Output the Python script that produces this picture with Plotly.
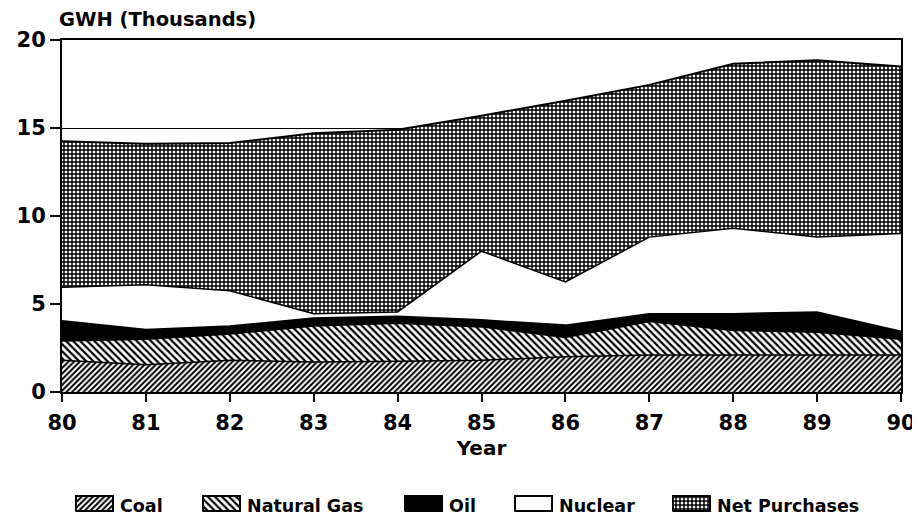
import plotly.graph_objects as go

# Year labels (19xx)
years = [80, 81, 82, 83, 84, 85, 86, 87, 88, 89, 90]

# GWH (thousands), values per source, stacked bottom to top
coal = [1.8, 1.55, 1.8, 1.7, 1.75, 1.8, 2.0, 2.1, 2.1, 2.1, 2.1]
natural_gas = [1.1, 1.45, 1.5, 2.05, 2.15, 1.9, 1.1, 1.9, 1.4, 1.3, 0.9]
oil = [1.15, 0.55, 0.45, 0.45, 0.4, 0.4, 0.7, 0.45, 0.95, 1.15, 0.45]
nuclear = [1.9, 2.55, 2.0, 0.25, 0.25, 3.9, 2.45, 4.35, 4.85, 4.25, 5.55]
net_purchases = [8.3, 8.0, 8.4, 10.25, 10.35, 7.7, 10.3, 8.65, 9.35, 10.05, 9.5]

FONT = "DejaVu Sans, Verdana, sans-serif"

# the page body adds an 8px margin, so the figure is 8px smaller and
# every position below is the reference position minus 8
W, H = 912, 511
M_L, M_R, M_T, M_B = 54, 19, 32, 0
PLOT_BOTTOM = 384  # pixel row of y = 0


def pattern(shape, size, solidity):
    return dict(shape=shape, fgcolor="black", bgcolor="white",
                size=size, solidity=solidity, fillmode="replace")


# name, values, fill colour, fill pattern, legend swatch left edge (px)
series = [
    ("Coal", coal, "white", pattern("/", 4, 0.5), 68),
    ("Natural Gas", natural_gas, "white", pattern("\\", 5, 0.45), 195),
    ("Oil", oil, "black", None, 397),
    ("Nuclear", nuclear, "white", None, 507),
    ("Net Purchases", net_purchases, "white", pattern("+", 4, 0.6), 665),
]

fig = go.Figure()

# Stacked areas
for name, values, color, patt, _ in series:
    fig.add_trace(
        go.Scatter(
            x=years,
            y=values,
            name=name,
            mode="lines",
            stackgroup="one",
            line=dict(color="black", width=2 if name == "Net Purchases" else 1.5),
            fillcolor=color,
            fillpattern=patt,
            showlegend=False,
            xaxis="x",
            yaxis="y",
        )
    )

# Legend drawn on a helper axis that works in pixel units (y counted from bottom)
SW_W, SW_Y0, SW_Y1 = 37, H - 503, H - 488
for name, values, color, patt, left in series:
    fig.add_trace(
        go.Scatter(
            x=[left, left + SW_W, left + SW_W, left, left],
            y=[SW_Y0, SW_Y0, SW_Y1, SW_Y1, SW_Y0],
            mode="lines",
            fill="toself",
            fillcolor=color,
            fillpattern=patt,
            line=dict(color="black", width=2),
            showlegend=False,
            hoverinfo="skip",
            xaxis="x2",
            yaxis="y2",
        )
    )
    # border on top so every swatch keeps a clear frame
    fig.add_shape(
        type="rect",
        xref="x2", yref="y2",
        x0=left, x1=left + SW_W, y0=SW_Y0, y1=SW_Y1,
        line=dict(color="black", width=1.5),
        fillcolor="rgba(0,0,0,0)",
        layer="above",
    )
    fig.add_annotation(
        text=name,
        xref="x2", yref="y2",
        x=left + SW_W + 5, y=H - 498,
        xanchor="left", yanchor="middle",
        showarrow=False,
        font=dict(family=FONT, size=17.5, color="black", weight="bold"),
    )

plot_w = W - M_L - M_R
plot_h = H - M_T - M_B
main_bottom = (H - M_B - PLOT_BOTTOM) / plot_h

fig.add_annotation(
    text="GWH (Thousands)",
    xref="paper", yref="paper",
    x=(49 - M_L) / plot_w, y=1 + (M_T - 12) / plot_h,
    xanchor="left", yanchor="middle",
    showarrow=False,
    font=dict(family=FONT, size=19.5, color="black", weight="bold"),
)

fig.update_layout(
    width=W,
    height=H,
    margin=dict(l=M_L, r=M_R, t=M_T, b=M_B),
    paper_bgcolor="white",
    plot_bgcolor="white",
    font=dict(family=FONT, size=21, color="black", weight="bold"),
    showlegend=False,
    xaxis=dict(
        domain=[0, 1],
        anchor="y",
        range=[80, 90],
        tickvals=years,
        ticks="outside",
        ticklen=8,
        tickwidth=2,
        tickcolor="black",
        ticklabelstandoff=3,
        showline=True,
        linecolor="black",
        linewidth=2,
        mirror=True,
        showgrid=False,
        zeroline=False,
        automargin=False,
        title=dict(text="Year", standoff=7,
                   font=dict(family=FONT, size=20, weight="bold")),
    ),
    yaxis=dict(
        domain=[main_bottom, 1],
        anchor="x",
        range=[0, 20],
        tickvals=[0, 5, 10, 15, 20],
        ticks="outside",
        ticklen=10,
        tickwidth=2,
        tickcolor="black",
        ticklabelstandoff=0,
        showline=True,
        linecolor="black",
        linewidth=2,
        mirror=True,
        showgrid=True,
        gridcolor="black",
        gridwidth=1,
        zeroline=False,
        automargin=False,
    ),
    # helper axes for the legend, one unit = one pixel
    xaxis2=dict(
        domain=[0, 1],
        anchor="y2",
        range=[M_L, W - M_R],
        visible=False,
        fixedrange=True,
    ),
    yaxis2=dict(
        domain=[0, 0.1],
        anchor="x2",
        range=[0, 0.1 * plot_h],
        visible=False,
        fixedrange=True,
    ),
)

fig.write_html("out.html")
